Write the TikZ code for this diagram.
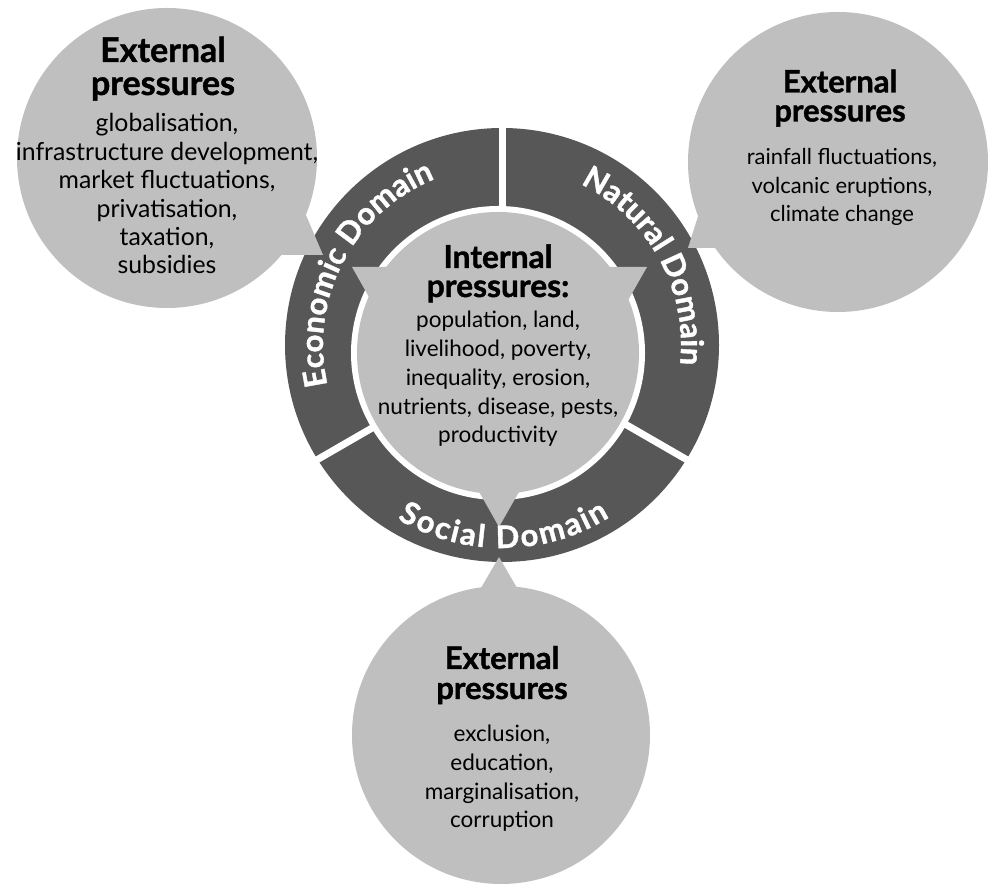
\documentclass[tikz,border=0pt]{standalone}
\usepackage{fontspec}
\setmainfont{Lato}
\newfontfamily\headfont[BoldFeatures={FakeBold=1.3}]{Lato}
\usetikzlibrary{decorations.text,calc}
\definecolor{ringdark}{RGB}{87,87,87}
\definecolor{bubble}{RGB}{191,191,191}
\begin{document}
\begin{tikzpicture}[x=1pt,y=1pt,
  bubblefill/.style={fill=bubble,draw=none},
  headtext/.style={anchor=base,inner sep=0pt},
  bodytext/.style={anchor=base,inner sep=0pt,font=\fontsize{22.5}{28.6}\selectfont},
  ringlabel/.style={font=\headfont\bfseries\fontsize{31}{31}\selectfont,decorate,
     decoration={text along path,text align={fit to path},
     text={|\headfont\bfseries\fontsize{31}{31}\selectfont\color{white}|#1}}}
]
\useasboundingbox (0,0) rectangle (990,885);
\coordinate (ringc) at (502,540);
\coordinate (innc) at (498,532);
\coordinate (gapc) at (502,532);

% ring
\fill[ringdark] (ringc) circle[radius=217];
\fill[white] (innc) circle[radius=147];
\foreach \a in {90,210,330}{
  \draw[white,line width=7pt] ($(gapc)+(\a:120)$) -- ($(gapc)+(\a:240)$);
}
% inner light shape
\fill[bubble] (innc) circle[radius=141];
\coordinate (tl) at (352,618);
\coordinate (tr) at (647,618);
\coordinate (tb) at (499,358);
\fill[bubble] (tl) -- (tr) -- (tb) -- cycle;

% external bubbles
\node[bubblefill,circle,minimum size=300pt,inner sep=0pt] (leftbub) at (167,727) {};
\node[bubblefill,circle,minimum size=300pt,inner sep=0pt] (rightbub) at (838,723) {};
\node[bubblefill,circle,minimum size=298pt,inner sep=0pt] (botbub) at (501,150) {};
\coordinate (lefttip) at (323,630);
\coordinate (righttip) at (688,637);
\coordinate (bottip) at (499,328);
\fill[bubble] (250,630) -- (lefttip) -- (297,691) -- cycle;
\fill[bubble] (740,637) -- (righttip) -- (706,694) -- cycle;
\fill[bubble] (474,285) -- (bottip) -- (524,285) -- cycle;

% ring labels
\path[ringlabel={Economic Domain}] ($(ringc)+(193:179)$) arc[start angle=193,end angle=112,radius=179];
\path[ringlabel={Natural Domain}] ($(ringc)+(64:179)$) arc[start angle=64,end angle=-6,radius=179];
\path[ringlabel={Social Domain}] ($(ringc)+(239:203)$) arc[start angle=239,end angle=302,radius=203];

% texts
\node[headtext,font=\headfont\bfseries\fontsize{34}{33}\selectfont] (lefthead) at (163,823) {\begin{tabular}[t]{@{}c@{}}External\\pressures\end{tabular}};
\node[bodytext,font=\fontsize{24.8}{28.4}\selectfont] (leftbody) at (167,753) {\begin{tabular}[t]{@{}c@{}}globalisation,\\infrastructure development,\\market fluctuations,\\privatisation,\\taxation,\\subsidies\end{tabular}};

\node[headtext,font=\headfont\bfseries\fontsize{31}{29}\selectfont] (righthead) at (840,792.5) {\begin{tabular}[t]{@{}c@{}}External\\pressures\end{tabular}};
\node[bodytext,font=\fontsize{22}{28.5}\selectfont] (rightbody) at (842,720) {\begin{tabular}[t]{@{}c@{}}rainfall fluctuations,\\volcanic eruptions,\\climate change\end{tabular}};

\node[headtext,font=\headfont\bfseries\fontsize{31}{30}\selectfont] (bothead) at (502,216) {\begin{tabular}[t]{@{}c@{}}External\\pressures\end{tabular}};
\node[bodytext] (botbody) at (502,143) {\begin{tabular}[t]{@{}c@{}}exclusion,\\education,\\marginalisation,\\corruption\end{tabular}};

\node[headtext,font=\headfont\bfseries\fontsize{31.7}{29}\selectfont] (innhead) at (498,617) {\begin{tabular}[t]{@{}c@{}}Internal\\pressures:\end{tabular}};
\node[bodytext,font=\fontsize{22.5}{28.75}\selectfont] (innbody) at (498,557) {\begin{tabular}[t]{@{}c@{}}population, land,\\livelihood, poverty,\\inequality, erosion,\\nutrients, disease, pests,\\productivity\end{tabular}};
\end{tikzpicture}
\end{document}
